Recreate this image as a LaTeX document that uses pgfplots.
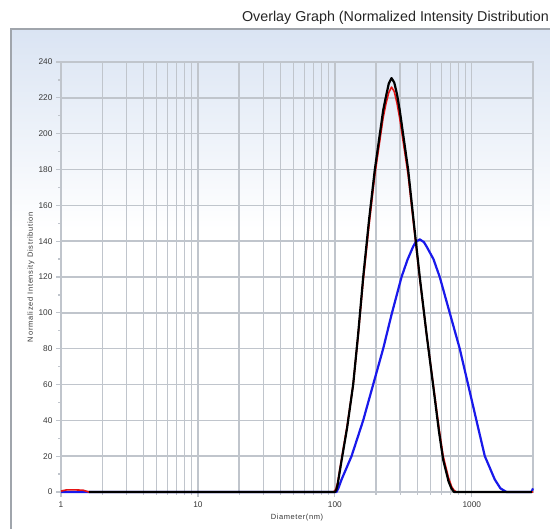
\documentclass[border=0pt]{standalone}
\usepackage{pgfplots}
\pgfplotsset{compat=1.18}
\usepackage{fontspec}
\setmainfont{Liberation Sans}
\definecolor{gridc}{RGB}{192,197,204}
\definecolor{topblue}{RGB}{218,228,243}
\definecolor{framec}{RGB}{160,165,172}
\definecolor{lblc}{RGB}{55,55,55}
\definecolor{cblue}{RGB}{25,25,235}
\definecolor{cred}{RGB}{230,20,20}
\begin{document}
\begin{tikzpicture}[x=1pt,y=1pt]
\fill[white] (0,0) rectangle (550,529);
\shade[top color=topblue, bottom color=white] (10,500) rectangle (550,300);
\draw[framec, line width=1.5pt] (10.75,-2) -- (10.75,499.75) -- (552,499.75);
\node[anchor=base east, font=\fontsize{14.3}{16}\selectfont, text=black!85, inner sep=0pt] at (549,507) {Overlay Graph (Normalized Intensity Distribution};
\begin{axis}[
  at={(61pt,37pt)}, anchor=south west,
  scale only axis, width=472pt, height=430pt,
  xmode=log, xmin=1, xmax=2800, ymin=0, ymax=240,
  axis line style={draw=gridc, line width=1.2pt},
  xtick={1,10,100,1000}, xticklabels={1,10,100,1000},
  ytick={0,20,...,240},
  minor ytick={10,30,...,230},
  xmajorgrids=true, xminorgrids=true, ymajorgrids=true,
  grid style={draw=gridc, line width=1.4pt},
  minor grid style={draw=gridc, line width=1.4pt},
  tick align=outside, xtick pos=bottom, ytick pos=left,
  major tick length=5pt, minor tick length=3pt,
  tick style={draw=gridc, line width=1.2pt},
  /pgf/number format/assume math mode=true,
  ticklabel style={font=\fontsize{8.3}{9}\selectfont, text=lblc},
  xticklabel style={yshift=-1pt},
  xlabel={Diameter(nm)}, ylabel={Normalized Intensity Distribution},
  xlabel style={font=\fontsize{7.5}{8}\selectfont\addfontfeatures{LetterSpace=8}, text=lblc, at={(axis description cs:0.5,0)}, anchor=base, yshift=-28pt},
  ylabel style={font=\fontsize{7.5}{8}\selectfont\addfontfeatures{LetterSpace=10}, text=lblc, at={(axis description cs:-0.0636,0.5)}, anchor=center},
  clip=false,
]
% blue
\addplot[cblue, line width=2.2pt, line join=round] coordinates {
(1,0) (102.8,0) (106.0,2) (112.0,7) (132.4,20) (161.1,40) (190.5,60) (225.4,80) (259.4,99)
(306.9,120) (338.8,129.5) (373.3,137) (389.0,139.5) (416.9,141) (446.7,139.5)
(467.7,137) (524.8,130) (583.4,120) (690.2,100) (816.6,80) (939.7,60) (1081,40)
(1245,20) (1472,7) (1620,2) (1791,0) (2730,0) (2800,2)
};
% red
\addplot[cred, line width=1.6pt, line join=round] coordinates {
(1,0.5) (1.1,1.2) (1.25,1.2) (1.45,1.0) (1.6,0) (98,0) (101.5,1.5) (104.7,5) (112.2,19)
(123.0,37) (136.1,60) (147.9,87) (161.1,118) (177.8,149) (195.9,177) (225.4,209)
(236.6,217) (247.7,223) (259.4,226) (271.6,223.5) (284.4,217) (297.8,208.5)
(342.8,177) (380.2,146)
(416.9,119) (467.7,88) (521.2,61) (575.4,36) (618.0,20) (676.1,8) (712,3) (741.3,1)
(770,0) (2800,0)
};
% black
\addplot[black, line width=2.2pt, line join=round] coordinates {
(1.6,0) (100,0) (102.3,1) (104.7,4) (112.2,18) (123.0,36) (136.1,60) (147.9,88) (161.1,120)
(177.8,152) (195.9,180) (225.4,213) (236.6,221) (247.7,228) (259.4,231)
(271.6,228.5) (284.4,222) (297.8,213) (342.8,180) (380.2,148) (416.9,120)
(467.7,88) (521.2,60) (575.4,34) (618.0,18) (676.1,6) (710,2) (741.3,0) (2750,0)
};
\end{axis}
\pgfresetboundingbox
\path[use as bounding box] (0,0) rectangle (550,529);
\end{tikzpicture}
\end{document}
